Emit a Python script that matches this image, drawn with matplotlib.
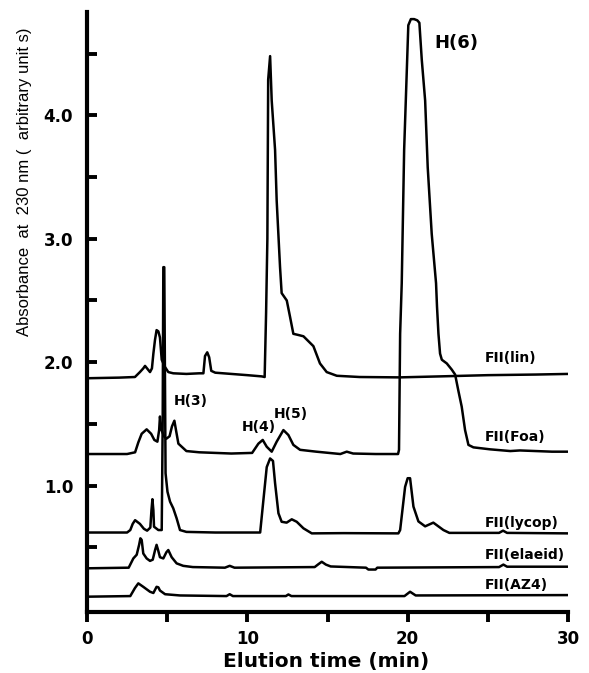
import matplotlib
matplotlib.use("Agg")
import matplotlib.pyplot as plt
from matplotlib.ticker import FixedLocator

# ---- data (elution time [min], absorbance) ----
lin = [(0, 1.87), (2.0, 1.875), (2.99, 1.88), (3.3, 1.92), (3.51, 1.95), (3.62, 1.97),
       (3.93, 1.92), (4.05, 1.95), (4.14, 2.07), (4.24, 2.18), (4.34, 2.26), (4.45, 2.25),
       (4.55, 2.2), (4.66, 2.02), (4.87, 1.96), (5.07, 1.92), (5.38, 1.91), (6.2, 1.905),
       (7.0, 1.91), (7.26, 1.91), (7.36, 2.05), (7.5, 2.08), (7.62, 2.04), (7.75, 1.93),
       (8.0, 1.915), (9.0, 1.905), (10.0, 1.895), (10.9, 1.885), (11.08, 1.88),
       (11.17, 2.4), (11.25, 3.0), (11.3, 4.29), (11.42, 4.48), (11.52, 4.12),
       (11.73, 3.72), (11.83, 3.31), (12.04, 2.77), (12.14, 2.56), (12.46, 2.50),
       (12.66, 2.37), (12.87, 2.23), (13.2, 2.22), (13.5, 2.21), (14.12, 2.13),
       (14.53, 1.99), (14.95, 1.92), (15.58, 1.89), (17.0, 1.88), (19.5, 1.877),
       (22.0, 1.885), (25.0, 1.895), (28.0, 1.9), (30.0, 1.905)]

foa = [(0, 1.256), (2.5, 1.256), (3.0, 1.27), (3.2, 1.35), (3.41, 1.42), (3.72, 1.456),
       (4.0, 1.42), (4.2, 1.37), (4.39, 1.356), (4.5, 1.45), (4.55, 1.56), (4.65, 1.45),
       (4.8, 1.40), (4.95, 1.38), (5.15, 1.40), (5.3, 1.48), (5.45, 1.526), (5.55, 1.45),
       (5.7, 1.34), (6.2, 1.28), (7.0, 1.27), (9.0, 1.26), (10.3, 1.265), (10.69, 1.34),
       (10.96, 1.37), (11.21, 1.315), (11.52, 1.275), (11.83, 1.356), (12.25, 1.45),
       (12.56, 1.41), (12.87, 1.33), (13.29, 1.29), (14.3, 1.275), (15.8, 1.256),
       (16.2, 1.275), (16.6, 1.26), (18.0, 1.256), (19.4, 1.256), (19.46, 1.29),
       (19.53, 2.23), (19.63, 2.64), (19.78, 3.72), (19.94, 4.34), (20.04, 4.73),
       (20.2, 4.78), (20.4, 4.78), (20.6, 4.77), (20.73, 4.75), (20.88, 4.45),
       (21.09, 4.12), (21.25, 3.58), (21.5, 3.04), (21.77, 2.64), (21.83, 2.45),
       (21.92, 2.23), (22.02, 2.07), (22.13, 2.02), (22.44, 1.99), (22.75, 1.94),
       (22.96, 1.90), (23.16, 1.77), (23.37, 1.64), (23.58, 1.45), (23.79, 1.33),
       (24.1, 1.31), (25.14, 1.294), (26.4, 1.28), (27.0, 1.285), (28.0, 1.28),
       (29.0, 1.275), (30.0, 1.275)]

lycop = [(0, 0.62), (2.5, 0.62), (2.7, 0.64), (2.85, 0.69), (3.0, 0.72), (3.3, 0.69),
         (3.55, 0.65), (3.75, 0.635), (3.95, 0.66), (4.02, 0.8), (4.08, 0.89),
         (4.14, 0.8), (4.18, 0.667), (4.45, 0.64), (4.66, 0.64), (4.72, 1.5),
         (4.76, 2.77), (4.82, 2.77), (4.9, 1.1), (5.02, 0.95), (5.18, 0.87),
         (5.38, 0.816), (5.59, 0.735), (5.8, 0.64), (6.2, 0.625), (8.0, 0.62),
         (10.8, 0.62), (11.0, 0.88), (11.21, 1.15), (11.42, 1.22), (11.6, 1.2),
         (11.73, 1.02), (11.94, 0.776), (12.14, 0.707), (12.45, 0.70), (12.77, 0.727),
         (13.08, 0.707), (13.5, 0.654), (14.02, 0.613), (16.0, 0.615), (19.42, 0.613),
         (19.53, 0.64), (19.84, 0.99), (20.0, 1.06), (20.15, 1.06), (20.36, 0.83),
         (20.67, 0.71), (21.09, 0.67), (21.6, 0.70), (22.23, 0.64), (22.6, 0.617),
         (25.7, 0.617), (25.95, 0.635), (26.2, 0.617), (30.0, 0.613)]

elaeid = [(0, 0.33), (2.6, 0.335), (2.89, 0.41), (3.1, 0.44), (3.25, 0.52), (3.33, 0.573),
          (3.41, 0.56), (3.51, 0.45), (3.72, 0.41), (3.93, 0.39), (4.1, 0.40),
          (4.25, 0.48), (4.34, 0.52), (4.45, 0.47), (4.55, 0.42), (4.76, 0.41),
          (4.95, 0.46), (5.07, 0.478), (5.28, 0.42), (5.59, 0.37), (6.0, 0.35),
          (6.6, 0.34), (8.6, 0.335), (8.9, 0.35), (9.2, 0.335), (14.2, 0.34),
          (14.45, 0.365), (14.64, 0.383), (14.9, 0.36), (15.2, 0.345), (17.4, 0.335),
          (17.55, 0.32), (18.0, 0.32), (18.1, 0.335), (25.7, 0.34), (25.97, 0.36),
          (26.2, 0.343), (30.0, 0.343)]

az4 = [(0, 0.10), (2.7, 0.105), (2.99, 0.17), (3.2, 0.208), (3.51, 0.18), (3.93, 0.14),
       (4.14, 0.13), (4.34, 0.18), (4.45, 0.176), (4.55, 0.15), (4.87, 0.12),
       (5.8, 0.11), (8.7, 0.105), (8.9, 0.12), (9.1, 0.105), (12.4, 0.105),
       (12.56, 0.118), (12.75, 0.105), (19.8, 0.105), (20.15, 0.14), (20.5, 0.11),
       (30.0, 0.113)]

series_names = ["FII(lin)", "FII(Foa)", "FII(lycop)", "FII(elaeid)", "FII(AZ4)"]
series_label_y = [2.03, 1.394, 0.697, 0.438, 0.194]

peak_names = ["H(3)", "H(4)", "H(5)", "H(6)"]
peak_pos = [(6.49, 1.686), (10.70, 1.471), (12.73, 1.58), (23.06, 4.584)]

x_major = [0, 10, 20, 30]
x_minor = [5, 15, 25]
y_major = [1.0, 2.0, 3.0, 4.0]
y_minor = [0.5, 1.5, 2.5, 3.5, 4.5]

# ---- figure ----
W, H = 589, 673
fig = plt.figure(figsize=(W / 100, H / 100), dpi=100)
ax = fig.add_axes([87 / W, 1 - 611.5 / H, (568 - 87) / W, (611.5 - 11.7) / H])

for s in [lin, foa, lycop, elaeid, az4]:
    t = [p[0] for p in s]
    a = [p[1] for p in s]
    ax.plot(t, a, color="black", lw=1.8, solid_joinstyle="round")

ax.set_xlim(0, 30)
ax.set_ylim(-0.02, 4.84)

for sp in ["top", "right"]:
    ax.spines[sp].set_visible(False)
for sp in ["left", "bottom"]:
    ax.spines[sp].set_linewidth(3)

ax.xaxis.set_major_locator(FixedLocator(x_major))
ax.xaxis.set_minor_locator(FixedLocator(x_minor))
ax.yaxis.set_major_locator(FixedLocator(y_major))
ax.yaxis.set_minor_locator(FixedLocator(y_minor))
ax.set_xticklabels([str(v) for v in x_major])
ax.set_yticklabels(["%.1f" % v for v in y_major])

ax.tick_params(axis="x", which="both", direction="out", length=7.5, width=2.8, pad=6)
ax.tick_params(axis="y", which="both", direction="in", length=7, width=2.8, pad=10)

for lab in ax.get_xticklabels():
    lab.set_fontfamily("DejaVu Sans"); lab.set_fontweight("bold"); lab.set_fontsize(12)
for lab in ax.get_yticklabels():
    lab.set_fontfamily("DejaVu Sans"); lab.set_fontweight("bold"); lab.set_fontsize(12)

for name, yv in zip(series_names, series_label_y):
    ax.text(24.8, yv, name, fontsize=10, fontweight="bold", family="DejaVu Sans",
            ha="left", va="center")

for name, (px, py) in zip(peak_names, peak_pos):
    fs = 13 if name == "H(6)" else 10
    ax.text(px, py, name, fontsize=fs, fontweight="bold", family="DejaVu Sans",
            ha="center", va="center")

fig.text(326 / W, 1 - 661 / H, "Elution time (min)", fontsize=14.5, fontweight="bold",
         family="DejaVu Sans", ha="center", va="center")
fig.text(25 / W, 1 - 182 / H, "Absorbance  at  230 nm (  arbitrary unit s)",
         fontsize=12, family=["Liberation Sans", "DejaVu Sans"],
         rotation=90, ha="center", va="center")

fig.savefig("out.png", dpi=100)
